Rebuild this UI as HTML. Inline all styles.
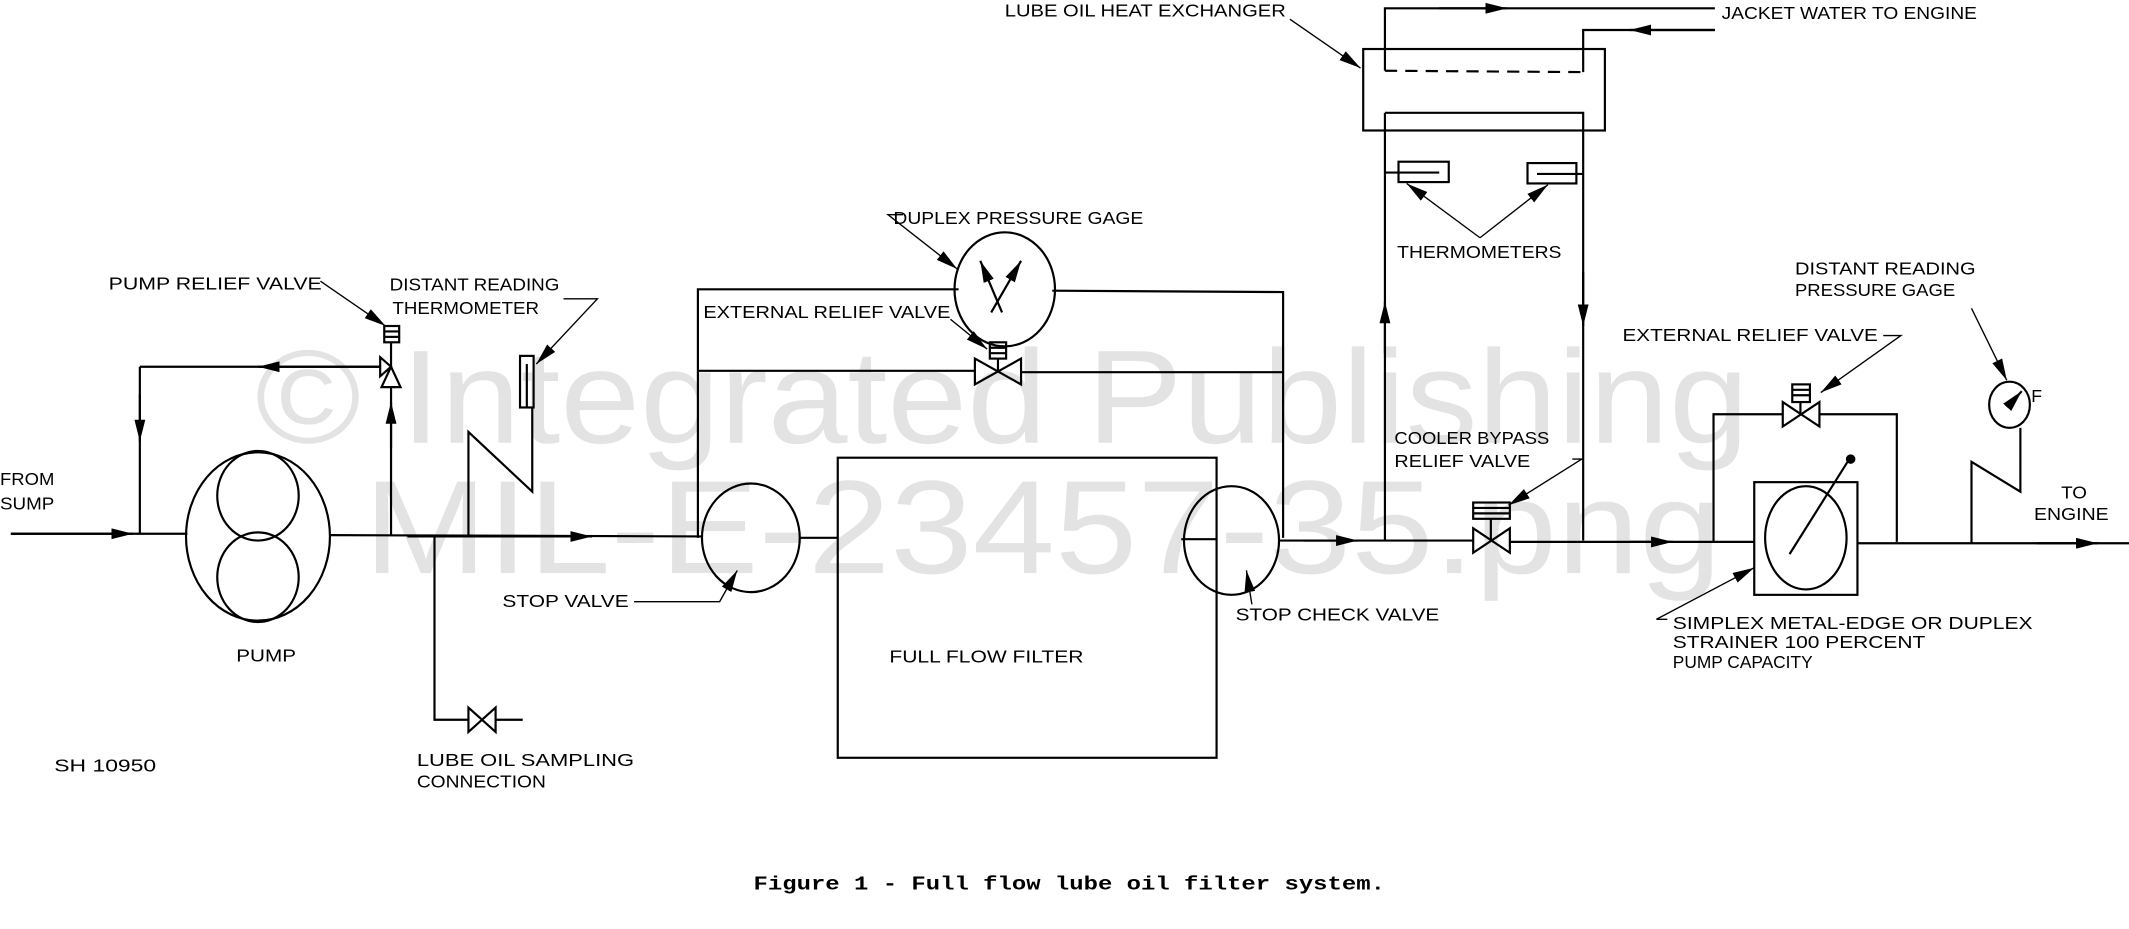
<!DOCTYPE html>
<html><head><meta charset="utf-8"><style>
html,body{margin:0;padding:0;background:#fff;}
svg{display:block}
text{font-family:"Liberation Sans",sans-serif;font-size:13px;fill:#000}
.wm{font-family:"Liberation Sans",sans-serif;font-size:98px;fill:#e3e3e3}
</style></head><body>
<svg width="2129" height="929" viewBox="0 0 1568 684" xmlns="http://www.w3.org/2000/svg">
<defs>
<marker id="a" viewBox="0 0 16 8" refX="16" refY="4" markerWidth="16" markerHeight="8" markerUnits="userSpaceOnUse" orient="auto"><path d="M0,0 L16,4 L0,8 Z" fill="#000"/></marker>
</defs>
<text class="wm" x="188" y="326" textLength="1100" lengthAdjust="spacingAndGlyphs">© Integrated Publishing</text>
<text class="wm" x="268" y="422" textLength="1000" lengthAdjust="spacingAndGlyphs">MIL-E-23457-35.png</text>

<g stroke="#000" stroke-width="1.6" fill="none">
<line x1="8" y1="393" x2="138" y2="393"/>
<line x1="8" y1="393" x2="98" y2="393" marker-end="url(#a)"/>
<line x1="243" y1="394" x2="517" y2="395"/>
<line x1="300" y1="395" x2="436" y2="395" marker-end="url(#a)"/>
<ellipse cx="190" cy="395" rx="53" ry="62"/>
<ellipse cx="190" cy="365" rx="30" ry="33"/>
<ellipse cx="190" cy="425" rx="30" ry="33"/>
<line x1="288" y1="394" x2="288" y2="285"/>
<line x1="288" y1="330" x2="288" y2="296" marker-end="url(#a)"/>
<line x1="280" y1="270" x2="103" y2="270"/>
<line x1="280" y1="270" x2="190" y2="270" marker-end="url(#a)"/>
<line x1="103" y1="270" x2="103" y2="393"/>
<line x1="103" y1="290" x2="103" y2="325" marker-end="url(#a)"/>
<path d="M288,270 L280,263 L280,277 Z M288,270 L281,285 L295,285 Z" fill="#fff"/>
<line x1="288" y1="270" x2="288" y2="252"/>
<rect x="283" y="240" width="11" height="12" fill="#fff"/>
<line x1="283" y1="244" x2="294" y2="244"/><line x1="283" y1="248" x2="294" y2="248"/>
<rect x="383" y="262" width="10" height="38"/>
<line x1="388" y1="268" x2="388" y2="300"/>
<polyline points="345,395 345,318 392,362 392,300"/>
<polyline points="320,395 320,530 345,530"/>
<path d="M345,521 L365,539 L365,521 L345,539 Z"/>
<line x1="365" y1="530" x2="385" y2="530"/>
<ellipse cx="553" cy="396" rx="36" ry="40"/>
<line x1="589" y1="396" x2="617" y2="396"/>
<polyline points="514,396 514,213 706,213"/>
<polyline points="775,214 945,215 945,396"/>
<line x1="514" y1="273" x2="718" y2="273"/><line x1="752" y1="274" x2="945" y2="274"/>
<path d="M718,264 L752,283 L752,264 L718,283 Z"/>
<line x1="735" y1="273" x2="735" y2="264"/>
<rect x="729" y="252" width="12" height="12"/><line x1="729" y1="256" x2="741" y2="256"/><line x1="729" y1="260" x2="741" y2="260"/>
<ellipse cx="740" cy="213" rx="37" ry="42"/>
<line x1="738" y1="230" x2="722" y2="192" marker-end="url(#a)"/>
<line x1="730" y1="230" x2="752" y2="192" marker-end="url(#a)"/>
<rect x="617" y="337" width="279" height="221"/>
<line x1="896" y1="397" x2="870" y2="397"/>
<ellipse cx="907" cy="398" rx="35" ry="40"/>
<line x1="942" y1="398" x2="1085" y2="398"/>
<line x1="960" y1="398" x2="1000" y2="398" marker-end="url(#a)"/>
<line x1="1020" y1="398" x2="1020" y2="83"/>
<line x1="1020" y1="260" x2="1020" y2="222" marker-end="url(#a)"/>
<polyline points="1020,36 1020,6 1263,6"/>
<line x1="1060" y1="6" x2="1110" y2="6" marker-end="url(#a)"/>
<rect x="1004" y="36" width="178" height="60"/>
<line x1="1020" y1="36" x2="1020" y2="52"/>
<line x1="1020" y1="52" x2="1166" y2="53" stroke-dasharray="9 6"/>
<polyline points="1166,53 1166,22 1263,22"/>
<line x1="1263" y1="22" x2="1200" y2="22" marker-end="url(#a)"/>
<polyline points="1020,83 1166,83 1166,398"/>
<line x1="1166" y1="200" x2="1166" y2="240" marker-end="url(#a)"/>
<rect x="1030" y="119" width="37" height="15"/><line x1="1020" y1="127" x2="1060" y2="127"/>
<rect x="1125" y="120" width="36" height="15"/><line x1="1132" y1="128" x2="1166" y2="128"/>
<path d="M1085,389 L1112,407 L1112,389 L1085,407 Z"/>
<line x1="1098" y1="398" x2="1098" y2="382"/>
<rect x="1085" y="370" width="27" height="12"/><line x1="1085" y1="374" x2="1112" y2="374"/><line x1="1085" y1="378" x2="1112" y2="378"/>
<line x1="1112" y1="399" x2="1292" y2="399"/>
<line x1="1200" y1="399" x2="1232" y2="399" marker-end="url(#a)"/>
<rect x="1292" y="355" width="76" height="83"/>
<ellipse cx="1330" cy="396" rx="30" ry="38"/>
<line x1="1318" y1="408" x2="1362" y2="338"/>
<polyline points="1262,399 1262,305 1313,305"/>
<polyline points="1340,305 1397,305 1397,399"/>
<path d="M1313,296 L1340,314 L1340,296 L1313,314 Z"/>
<line x1="1326" y1="305" x2="1326" y2="296"/>
<rect x="1320" y="283" width="13" height="13"/><line x1="1320" y1="287" x2="1333" y2="287"/><line x1="1320" y1="291" x2="1333" y2="291"/>
<line x1="1368" y1="400" x2="1568" y2="400"/>
<line x1="1500" y1="400" x2="1545" y2="400" marker-end="url(#a)"/>
<ellipse cx="1480" cy="298" rx="15" ry="17"/>
<line x1="1480" y1="298" x2="1489" y2="288" marker-end="url(#a)"/>
<polyline points="1452,400 1452,340 1488,362 1488,315"/>
</g>
<circle cx="1363" cy="338" r="3.5" fill="#000"/>

<g stroke="#000" stroke-width="1" fill="none">
<line x1="236" y1="207" x2="284" y2="240" marker-end="url(#a)"/>
<polyline points="415,220 440,220 395,268" marker-end="url(#a)"/>
<polyline points="467,443 530,443 543,420" marker-end="url(#a)"/>
<polyline points="665,158 654,158 705,198" marker-end="url(#a)"/>
<line x1="700" y1="235" x2="727" y2="257" marker-end="url(#a)"/>
<line x1="950" y1="14" x2="1002" y2="50" marker-end="url(#a)"/>
<line x1="1090" y1="175" x2="1036" y2="135" marker-end="url(#a)"/>
<line x1="1090" y1="175" x2="1140" y2="136" marker-end="url(#a)"/>
<polyline points="1158,338 1165,338 1111,372" marker-end="url(#a)"/>
<polyline points="1387,247 1400,247 1341,289" marker-end="url(#a)"/>
<line x1="1452" y1="227" x2="1478" y2="280" marker-end="url(#a)"/>
<polyline points="1228,456 1220,456 1292,418" marker-end="url(#a)"/>
<line x1="922" y1="445" x2="918" y2="420" marker-end="url(#a)"/>
</g>

<g>
<text x="0" y="357" textLength="40" lengthAdjust="spacingAndGlyphs">FROM</text>
<text x="0" y="375" textLength="40" lengthAdjust="spacingAndGlyphs">SUMP</text>
<text x="80" y="213" textLength="157" lengthAdjust="spacingAndGlyphs">PUMP RELIEF  VALVE</text>
<text x="287" y="214" textLength="125" lengthAdjust="spacingAndGlyphs">DISTANT  READING</text>
<text x="289" y="231" textLength="108" lengthAdjust="spacingAndGlyphs">THERMOMETER</text>
<text x="174" y="487" textLength="44" lengthAdjust="spacingAndGlyphs">PUMP</text>
<text x="40" y="568" textLength="75" lengthAdjust="spacingAndGlyphs">SH 10950</text>
<text x="307" y="564" textLength="160" lengthAdjust="spacingAndGlyphs">LUBE  OIL  SAMPLING</text>
<text x="307" y="580" textLength="95" lengthAdjust="spacingAndGlyphs">CONNECTION</text>
<text x="370" y="447" textLength="93" lengthAdjust="spacingAndGlyphs">STOP  VALVE</text>
<text x="658" y="165" textLength="184" lengthAdjust="spacingAndGlyphs">DUPLEX PRESSURE  GAGE</text>
<text x="518" y="234" textLength="182" lengthAdjust="spacingAndGlyphs">EXTERNAL RELIEF VALVE</text>
<text x="655" y="488" textLength="143" lengthAdjust="spacingAndGlyphs">FULL FLOW FILTER</text>
<text x="910" y="457" textLength="150" lengthAdjust="spacingAndGlyphs">STOP CHECK VALVE</text>
<text x="740" y="12" textLength="207" lengthAdjust="spacingAndGlyphs">LUBE  OIL  HEAT  EXCHANGER</text>
<text x="1268" y="14" textLength="188" lengthAdjust="spacingAndGlyphs">JACKET  WATER  TO  ENGINE</text>
<text x="1029" y="190" textLength="121" lengthAdjust="spacingAndGlyphs">THERMOMETERS</text>
<text x="1322" y="202" textLength="133" lengthAdjust="spacingAndGlyphs">DISTANT  READING</text>
<text x="1322" y="218" textLength="118" lengthAdjust="spacingAndGlyphs">PRESSURE  GAGE</text>
<text x="1195" y="251" textLength="188" lengthAdjust="spacingAndGlyphs">EXTERNAL  RELIEF  VALVE</text>
<text x="1027" y="327" textLength="114" lengthAdjust="spacingAndGlyphs">COOLER  BYPASS</text>
<text x="1027" y="344" textLength="100" lengthAdjust="spacingAndGlyphs">RELIEF  VALVE</text>
<text x="1496" y="296">F</text>
<text x="1518" y="367" textLength="19" lengthAdjust="spacingAndGlyphs">TO</text>
<text x="1498" y="383" textLength="55" lengthAdjust="spacingAndGlyphs">ENGINE</text>
<text x="1232" y="463" textLength="265" lengthAdjust="spacingAndGlyphs">SIMPLEX METAL-EDGE  OR DUPLEX</text>
<text x="1232" y="477" textLength="186" lengthAdjust="spacingAndGlyphs">STRAINER  100 PERCENT</text>
<text x="1232" y="492" textLength="103" lengthAdjust="spacingAndGlyphs">PUMP CAPACITY</text>
<text x="555" y="655" textLength="465" lengthAdjust="spacingAndGlyphs" style="font-family:'Liberation Mono',monospace;font-size:14px;font-weight:bold">Figure 1 - Full flow lube oil filter system.</text>
</g>
</svg>
</body></html>
